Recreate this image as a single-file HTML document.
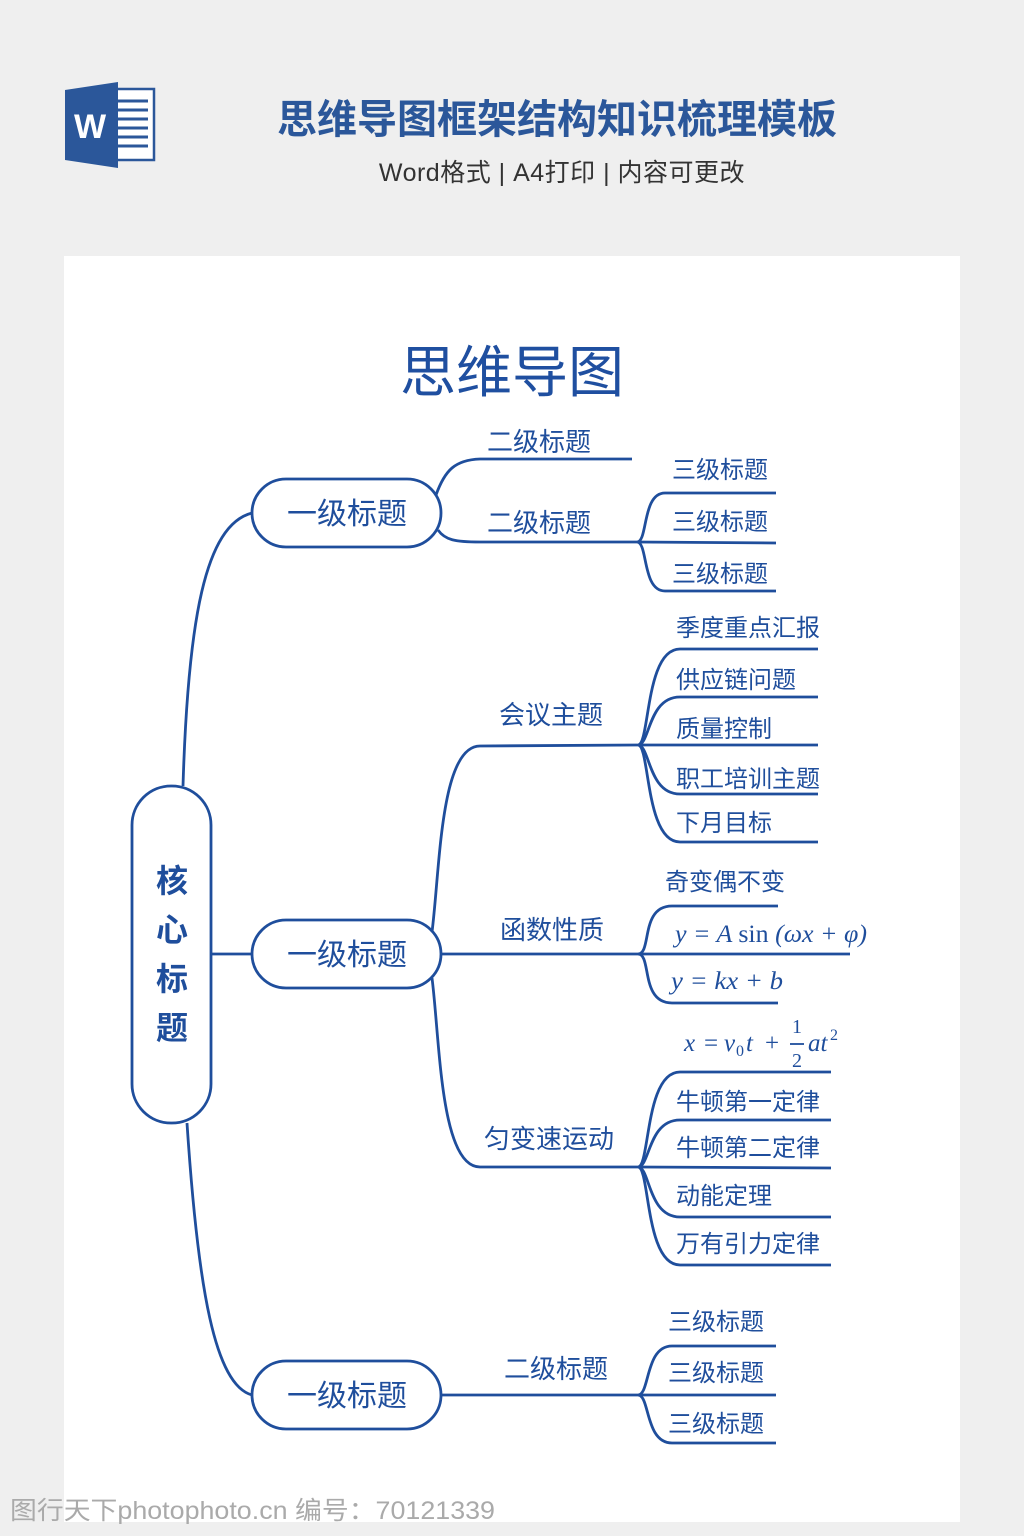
<!DOCTYPE html>
<html><head><meta charset="utf-8">
<style>
html,body{margin:0;padding:0;background:#efefef;}
body{width:1024px;height:1536px;overflow:hidden;}
svg{display:block}
.cj{font-family:"Liberation Sans","Noto Sans CJK SC",sans-serif;}
.m{font-family:"Liberation Serif","DejaVu Serif",serif;font-style:italic;}
</style></head><body>
<svg width="1024" height="1536" viewBox="0 0 1024 1536" xmlns="http://www.w3.org/2000/svg">
<rect width="1024" height="1536" fill="#efefef"/>
<rect x="112" y="89" width="42" height="71" fill="#fff" stroke="#2b579a" stroke-width="2.5"/>
<g stroke="#2b579a" stroke-width="3"><line x1="118" y1="101" x2="148" y2="101"/><line x1="118" y1="110" x2="148" y2="110"/><line x1="118" y1="119" x2="148" y2="119"/><line x1="118" y1="128" x2="148" y2="128"/><line x1="118" y1="137" x2="148" y2="137"/><line x1="118" y1="146" x2="148" y2="146"/></g>
<polygon points="65,90 118,82 118,168 65,160" fill="#2b579a"/>
<text x="90" y="138" font-family="Liberation Sans,sans-serif" font-weight="bold" font-size="34" fill="#fff" text-anchor="middle">W</text>
<text x="557" y="133" class="cj" font-size="40" font-weight="bold" fill="#2b579a" text-anchor="middle">思维导图框架结构知识梳理模板</text>
<text x="562" y="181" class="cj" font-size="25" fill="#333" text-anchor="middle" letter-spacing="0.5">Word格式 | A4打印 | 内容可更改</text>
<rect x="64" y="256" width="896" height="1266" fill="#fff"/>
<text x="512" y="392" class="cj" font-size="56" fill="#1f4fa0" text-anchor="middle">思维导图</text>

<g fill="none" stroke="#1f4e9c" stroke-width="2.8">
<rect x="132" y="786" width="79" height="337" rx="39"/>
<rect x="252" y="479" width="189" height="68" rx="34"/>
<rect x="252" y="920" width="189" height="68" rx="34"/>
<rect x="252" y="1361" width="189" height="68" rx="34"/>
<path d="M183,786 C188,620 205,525 252,513"/>
<path d="M211,954 L252,954"/>
<path d="M187,1123 C198,1290 215,1385 252,1395"/>
<path d="M436,495 C445,470 455,460 480,459 L632,459"/>
<path d="M438,530 C445,540 455,542 480,542 L637,542"/>
<path d="M637,542 C648,542 642,493 665,493 L776,493"/>
<path d="M637,542 L776,543"/>
<path d="M637,542 C648,542 642,591 665,591 L776,591"/>
<path d="M432,932 C440,870 440,746 480,746 L638,745"/>
<path d="M638,745 C650,745 645,649 680,649 L818,649"/>
<path d="M638,745 C650,745 648,697 680,697 L818,697"/>
<path d="M638,745 L818,745"/>
<path d="M638,745 C650,745 648,794 680,794 L818,794"/>
<path d="M638,745 C650,745 645,842 680,842 L818,842"/>
<path d="M441,954 L638,954"/>
<path d="M638,954 C652,954 640,906 672,906 L778,906"/>
<path d="M638,954 L850,954"/>
<path d="M638,954 C652,954 640,1003 672,1003 L778,1003"/>
<path d="M432,978 C440,1040 440,1167 480,1167 L638,1167"/>
<path d="M638,1167 C650,1167 645,1072 680,1072 L831,1072"/>
<path d="M638,1167 C650,1167 648,1120 680,1120 L831,1120"/>
<path d="M638,1167 L831,1168"/>
<path d="M638,1167 C650,1167 648,1217 680,1217 L831,1217"/>
<path d="M638,1167 C650,1167 645,1265 680,1265 L831,1265"/>
<path d="M441,1395 L638,1395"/>
<path d="M638,1395 C650,1395 645,1346 672,1346 L776,1346"/>
<path d="M638,1395 L776,1395"/>
<path d="M638,1395 C650,1395 645,1443 672,1443 L776,1443"/>
</g>

<g class="cj" fill="#1f4e9c">
<g font-size="32" font-weight="bold" text-anchor="middle">
<text x="172" y="892">核</text><text x="172" y="941">心</text><text x="172" y="990">标</text><text x="172" y="1039">题</text>
</g>
<g font-size="30" text-anchor="middle">
<text x="347" y="524">一级标题</text><text x="347" y="965">一级标题</text><text x="347" y="1406">一级标题</text>
</g>
<g font-size="26" text-anchor="middle">
<text x="539" y="451">二级标题</text><text x="539" y="532">二级标题</text>
<text x="551" y="724">会议主题</text><text x="552" y="939">函数性质</text>
<text x="549" y="1148">匀变速运动</text><text x="556" y="1378">二级标题</text>
</g>
<g font-size="24">
<text x="672" y="478">三级标题</text><text x="672" y="530">三级标题</text><text x="672" y="582">三级标题</text>
<text x="676" y="636">季度重点汇报</text><text x="676" y="688">供应链问题</text><text x="676" y="737">质量控制</text>
<text x="676" y="787">职工培训主题</text><text x="676" y="831">下月目标</text>
<text x="665" y="890">奇变偶不变</text>
<text x="676" y="1110">牛顿第一定律</text><text x="676" y="1156">牛顿第二定律</text><text x="676" y="1204">动能定理</text><text x="676" y="1252">万有引力定律</text>
<text x="668" y="1330">三级标题</text><text x="668" y="1381">三级标题</text><text x="668" y="1432">三级标题</text>
</g>
</g>
<g class="m" fill="#1f4e9c" font-size="25">
<text x="675" y="942" textLength="192" lengthAdjust="spacingAndGlyphs">y = A <tspan font-style="normal">sin</tspan> (ωx + φ)</text>
<text x="671" y="989" textLength="112" lengthAdjust="spacingAndGlyphs">y = kx + b</text>
<text x="684" y="1051">x</text>
<text x="704" y="1051" font-style="normal">=</text>
<text x="724" y="1051">v</text>
<text x="736" y="1056" font-size="16" font-style="normal">0</text>
<text x="746" y="1051">t</text>
<text x="765" y="1051" font-style="normal">+</text>
<text x="797" y="1033" font-size="20" font-style="normal" text-anchor="middle">1</text>
<line x1="790" y1="1044" x2="804" y2="1044" stroke="#1f4e9c" stroke-width="1.8"/>
<text x="797" y="1067" font-size="20" font-style="normal" text-anchor="middle">2</text>
<text x="808" y="1051">at</text>
<text x="830" y="1040" font-size="16" font-style="normal">2</text>
</g>
<text x="10" y="1519" class="cj" font-size="25" fill="#aaa" textLength="485" lengthAdjust="spacingAndGlyphs">图行天下photophoto.cn 编号：70121339</text>
</svg>
</body></html>
